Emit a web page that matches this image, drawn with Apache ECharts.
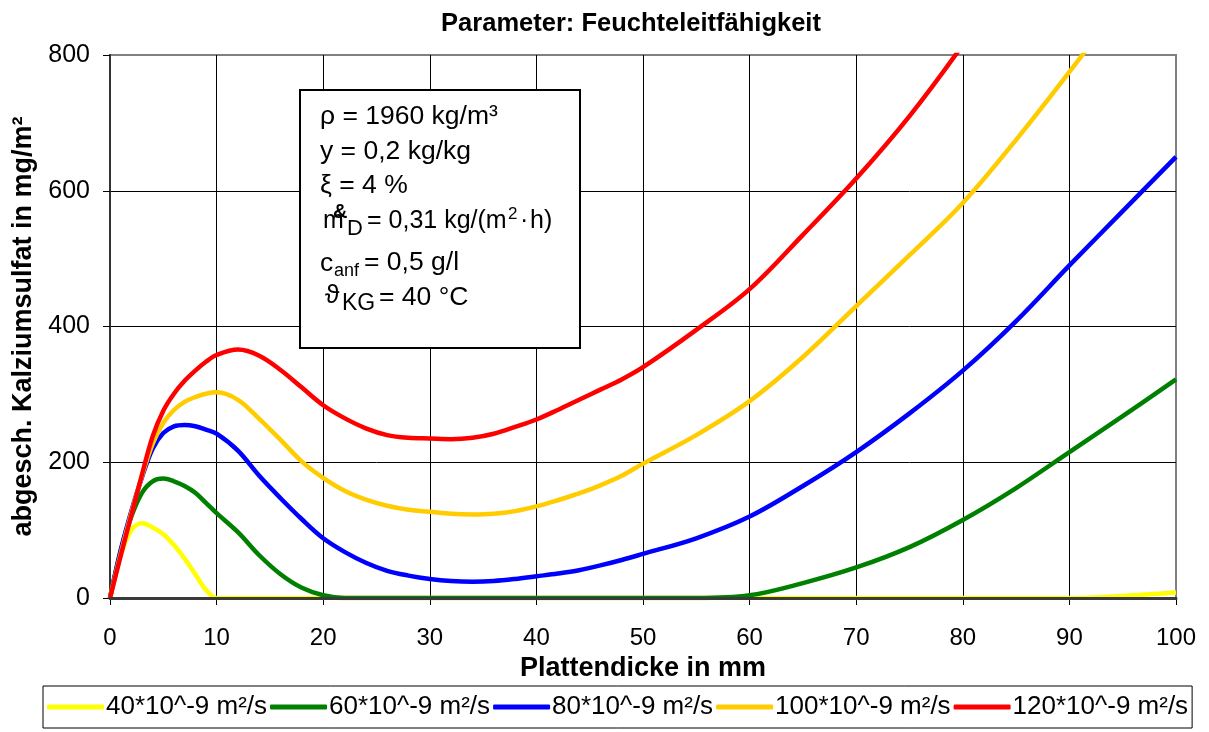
<!DOCTYPE html>
<html>
<head>
<meta charset="utf-8">
<script src="https://cdn.jsdelivr.net/npm/echarts@6/dist/echarts.min.js"></script>
<style>html,body{margin:0;padding:0;background:#fff}#c{width:1209px;height:732px}</style>
</head>
<body>
<div id="c"></div>
<script>
const xs = [0,1,2,3,4,5,6,7,8,9,10,12,14,16,18,20,22,24,26,28,30,32,34,36,38,40,42,44,46,48,50,55,60,65,70,75,80,85,90,95,100];
const d40  = [0,62,100,110,104,94,78,58,35,12,0,0,0,0,0,0,0,0,0,0,0,0,0,0,0,0,0,0,0,0,0,0,0,0,0,0,0,0,0,3,8];
const d60  = [0,70,120,155,172,176,172,165,155,140,125,97,63,35,15,4,0,0,0,0,0,0,0,0,0,0,0,0,0,0,0,0,4,22,45,75,115,162,215,268,322];
const d80  = [0,70,128,178,220,243,253,255,253,248,242,217,180,147,116,88,68,52,40,33,28,25,24,25,28,32,36,41,48,56,65,88,120,165,215,272,335,408,490,570,650];
const d100 = [0,65,125,180,227,258,277,289,296,301,303,292,264,233,201,177,158,145,136,130,127,124,123,124,128,135,144,154,166,180,198,240,290,355,430,505,582,675,775,880,990];
const d120 = [0,62,122,182,238,276,301,320,335,348,358,366,357,336,310,284,265,250,240,236,235,234,236,242,252,263,277,292,307,322,340,395,455,535,618,710,815,930,1050,1180,1320];
const seriesNames = ['40*10^-9 m²/s','60*10^-9 m²/s','80*10^-9 m²/s','100*10^-9 m²/s','120*10^-9 m²/s'];
const seriesColors = ['#FFFF00','#008000','#0000FF','#FFCC00','#FF0000'];
const seriesData = [d40,d60,d80,d100,d120];
const xTicks = [0,10,20,30,40,50,60,70,80,90,100];
const yTicks = [0,200,400,600,800];

const FONT = '"Liberation Sans", Arial, sans-serif';
const chart = echarts.init(document.getElementById('c'), null, {renderer:'canvas'});

const series = seriesData.map((d,i)=>({
  name: seriesNames[i], type:'line', data: xs.map((x,j)=>[x,d[j]]),
  smooth: 0.35, showSymbol:false, symbol:'none', clip:true,
  lineStyle:{color:seriesColors[i], width:4.5}, itemStyle:{color:seriesColors[i]}, z:2
}));

const BF = '26.5px ' + FONT;
const txt = (x,y,s,extra)=>Object.assign({type:'text', x:x, y:y, z:101, style:Object.assign({text:s, font:BF, fill:'#000', verticalAlign:'middle', align:'left'}, extra||{})});

chart.setOption({
  animation:false,
  backgroundColor:'#fff',
  title:{text:'Parameter: Feuchteleitfähigkeit', left:626, top:6, textAlign:'center',
    textStyle:{fontFamily:FONT, fontSize:25.5, fontWeight:'bold', color:'#000'}},
  grid:{left:110, right:33, top:55, bottom:134, show:true, borderColor:'#808080', borderWidth:2, containLabel:false},
  xAxis:[{
    type:'value', min:xTicks[0], max:xTicks[xTicks.length-1], interval:10,
    name:'Plattendicke in mm', nameLocation:'middle', nameGap:49,
    nameTextStyle:{fontFamily:FONT, fontSize:27, fontWeight:'bold', color:'#000'},
    axisLine:{show:true, onZero:false, lineStyle:{color:'#333', width:2}},
    axisTick:{show:true, inside:false, length:7, lineStyle:{color:'#000', width:1}},
    axisLabel:{fontFamily:FONT, fontSize:24, color:'#000', margin:28},
    splitLine:{show:true, showMaxLine:false, lineStyle:{color:'#000', width:1}}
  },{
    type:'value', min:0, max:100, position:'bottom', z:5,
    axisLine:{show:true, onZero:false, lineStyle:{color:'#3a3a3a', width:3}},
    axisTick:{show:false}, axisLabel:{show:false}, splitLine:{show:false}
  }],
  yAxis:{
    type:'value', min:yTicks[0], max:yTicks[yTicks.length-1], interval:200,
    name:'abgesch. Kalziumsulfat in mg/m²', nameLocation:'middle', nameGap:72, nameRotate:90,
    nameTextStyle:{fontFamily:FONT, fontSize:27, fontWeight:'bold', color:'#000'},
    axisLine:{show:true, onZero:false, lineStyle:{color:'#333', width:2}},
    axisTick:{show:true, inside:false, length:7, lineStyle:{color:'#000', width:1}},
    axisLabel:{fontFamily:FONT, fontSize:25, color:'#000', margin:20},
    splitLine:{show:true, showMaxLine:false, lineStyle:{color:'#000', width:1}}
  },
  legend:{
    data:seriesNames, left:43, top:686, orient:'horizontal',
    padding:[8,4,8,4], itemGap:3, itemWidth:57, itemHeight:5, icon:'roundRect',
    borderColor:'#000', borderWidth:1,
    textStyle:{fontFamily:FONT, fontSize:26, color:'#000', padding:[0,0,0,-3]}
  },
  series: series,
  graphic:[
    {type:'rect', z:100, shape:{x:300, y:90, width:280, height:258}, style:{fill:'#fff', stroke:'#000', lineWidth:2}},
    txt(320,117,'ρ = 1960 kg/m³'),
    txt(320,152,'y = 0,2 kg/kg'),
    txt(320,186,'ξ = 4 %'),
    txt(323,221,'m', {font:'25px '+FONT}),
    txt(333,212,'&', {font:'bold 20px '+FONT}),
    txt(347,229,'D', {font:'22px '+FONT}),
    txt(367,221,'= 0,31 kg/(m', {font:'25px '+FONT}),
    txt(508,214,'2', {font:'17px '+FONT}),
    txt(520,221,'·', {font:'25px '+FONT}),
    txt(530,221,'h)', {font:'25px '+FONT}),
    txt(320,264,'c'),
    txt(334,271,'anf', {font:'18px '+FONT}),
    txt(364,263,'= 0,5 g/l'),
    txt(325,296,'ϑ'),
    txt(342,304,'KG', {font:'23px '+FONT}),
    txt(379,298,'= 40 °C')
  ]
});
</script>
</body>
</html>
